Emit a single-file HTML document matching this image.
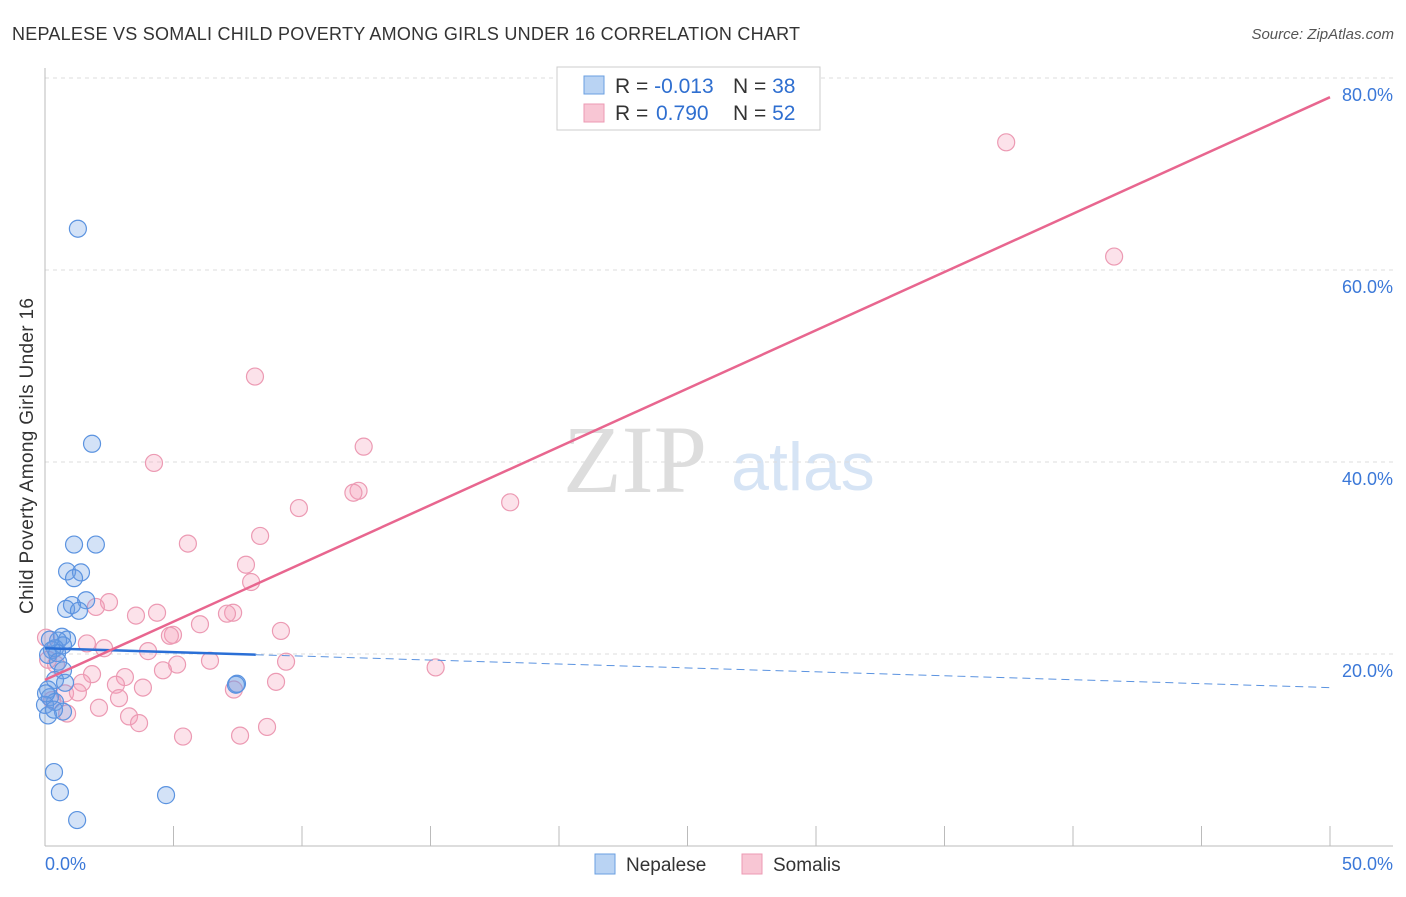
<!DOCTYPE html>
<html><head><meta charset="utf-8"><style>
body{margin:0;background:#fff;font-family:"Liberation Sans",sans-serif;}
svg text{font-family:"Liberation Sans",sans-serif;}
</style></head><body>
<svg width="1406" height="892" xmlns="http://www.w3.org/2000/svg">
<text x="12" y="40" font-size="18" fill="#333" textLength="788">NEPALESE VS SOMALI CHILD POVERTY AMONG GIRLS UNDER 16 CORRELATION CHART</text>
<text x="1394" y="39" font-size="15" fill="#555" text-anchor="end" font-style="italic">Source: ZipAtlas.com</text>
<text x="635" y="492" font-size="96" fill="#ddd" text-anchor="middle" style="font-family:'Liberation Serif',serif">ZIP</text>
<text x="803" y="490" font-size="68" fill="#d6e4f5" text-anchor="middle">atlas</text>
<g id="grid"></g>
<g id="axes"></g>
<g id="pts"></g>
<g id="lines"></g>
<text x="-456" y="33" transform="rotate(-90)" font-size="19" fill="#333" text-anchor="middle" textLength="316">Child Poverty Among Girls Under 16</text>
<rect x="557" y="67" width="263" height="63" fill="#fff" stroke="#ccc"/>
<rect x="584" y="76" width="20" height="18" fill="#b9d3f3" stroke="#6a9fe0"/>
<rect x="584" y="104" width="20" height="18" fill="#f8c6d4" stroke="#ec9ab3"/>
<text x="615" y="93" font-size="21" fill="#333">R = <tspan fill="#2f6fd0">-0.013</tspan><tspan x="733">N = </tspan><tspan fill="#2f6fd0">38</tspan></text>
<text x="615" y="120" font-size="21" fill="#333">R = <tspan x="656" fill="#2f6fd0">0.790</tspan><tspan x="733">N = </tspan><tspan fill="#2f6fd0">52</tspan></text>
<rect x="595" y="854" width="20" height="20" fill="#b9d3f3" stroke="#6a9fe0"/>
<text x="626" y="871" font-size="19" fill="#333">Nepalese</text>
<rect x="742" y="854" width="20" height="20" fill="#f8c6d4" stroke="#ec9ab3"/>
<text x="773" y="871" font-size="19" fill="#333">Somalis</text>
</svg>
<script>
const xTicks=[0,5,10,15,20,25,30,35,40,45,50];
const yTicks=[20,40,60,80];
const yTickLabels=["20.0%","40.0%","60.0%","80.0%"];
const xEndLabels=["0.0%","50.0%"];
const nepX=[1.28,1.83,1.13,1.98,0.86,1.40,1.13,1.60,1.05,0.82,1.32,0.66,0.86,0.51,0.70,0.39,0.27,0.47,0.12,0.51,0.70,0.39,0.78,0.12,0.19,0.39,0.0,0.70,0.12,0.35,7.47,7.43,0.35,0.58,4.71,1.25,0.04,0.19];
const nepY=[64.3,41.9,31.4,31.4,28.6,28.5,27.9,25.6,25.1,24.7,24.5,21.8,21.5,21.4,20.9,20.6,20.4,20.1,19.9,19.2,18.3,17.3,17.0,16.3,15.5,15.0,14.7,14.0,13.6,14.2,16.9,16.8,7.7,5.6,5.3,2.7,15.9,21.5];
const somX=[37.4,41.6,8.17,12.4,4.24,18.1,12.2,12.0,9.88,8.37,5.56,7.82,8.02,2.49,1.98,4.36,3.54,7.32,7.08,6.03,9.18,4.98,4.86,1.63,2.30,4.01,0.04,0.12,0.43,6.42,5.14,9.38,15.2,4.59,1.83,3.11,1.44,2.76,8.99,3.81,7.35,0.78,1.28,2.88,2.10,0.86,3.27,3.66,5.37,7.59,8.64,0.27];
const somY=[73.3,61.4,48.9,41.6,39.9,35.8,37.0,36.8,35.2,32.3,31.5,29.3,27.5,25.4,24.9,24.3,24.0,24.3,24.2,23.1,22.4,22.0,21.9,21.1,20.6,20.3,21.7,19.4,18.9,19.3,18.9,19.2,18.6,18.3,17.9,17.6,17.0,16.8,17.1,16.5,16.3,15.9,16.0,15.4,14.4,13.8,13.5,12.8,11.4,11.5,12.4,15.2];
const nepLine=[20.6,16.5]; const nepSolidEnd=8.2;
const somLine=[17.3,78.0];
const NS="http://www.w3.org/2000/svg";
const X=v=>45+v*25.7, Y=v=>846-v*9.6;
function mk(tag,attrs,parent){const e=document.createElementNS(NS,tag);for(const k in attrs)e.setAttribute(k,attrs[k]);document.getElementById(parent).appendChild(e);return e;}
yTicks.forEach((t,i)=>{
 const g=mk('line',{x1:45,x2:1393,y1:Y(t),y2:Y(t),stroke:'#ddd','stroke-dasharray':'4,4'},'grid');
 
 
 const l=mk('text',{x:1393,y:Y(t)+23,'font-size':18,fill:'#3b78d8','text-anchor':'end'},'axes');
 l.textContent=yTickLabels[i];
 
 
});
const ax=mk('line',{x1:45,x2:1393,y1:846,y2:846,stroke:'#bbb'},'axes');


const ay=mk('line',{x1:45,x2:45,y1:68,y2:846,stroke:'#bbb'},'axes');


xTicks.slice(1).forEach(t=>{
 const e=mk('line',{x1:X(t),x2:X(t),y1:826,y2:846,stroke:'#bbb'},'axes');
 
 
});
const l0=mk('text',{x:45,y:870,'font-size':18,fill:'#3b78d8'},'axes');l0.textContent=xEndLabels[0];


const l1=mk('text',{x:1393,y:870,'font-size':18,fill:'#3b78d8','text-anchor':'end'},'axes');l1.textContent=xEndLabels[1];


somX.forEach((x,i)=>{
 const c=mk('circle',{cx:X(x),cy:Y(somY[i]),r:8.5,fill:'rgba(244,160,185,0.3)',stroke:'#ec9ab3','stroke-width':1.2},'pts');
 
 
});
nepX.forEach((x,i)=>{
 const c=mk('circle',{cx:X(x),cy:Y(nepY[i]),r:8.5,fill:'rgba(110,160,230,0.3)',stroke:'#5b93e0','stroke-width':1.2},'pts');
 
 
});
const nf=x=>nepLine[0]+(nepLine[1]-nepLine[0])*x/50;
const b1=mk('line',{x1:X(0),y1:Y(nf(0)),x2:X(nepSolidEnd),y2:Y(nf(nepSolidEnd)),stroke:'#2a6fd6','stroke-width':2.5},'lines');


const b2=mk('line',{x1:X(nepSolidEnd),y1:Y(nf(nepSolidEnd)),x2:X(50),y2:Y(nf(50)),stroke:'#5b93e0','stroke-width':1,'stroke-dasharray':'8,5'},'lines');


const p=mk('line',{x1:X(0),y1:Y(somLine[0]),x2:X(50),y2:Y(somLine[1]),stroke:'#e8668f','stroke-width':2.5},'lines');


</script>
</body></html>
